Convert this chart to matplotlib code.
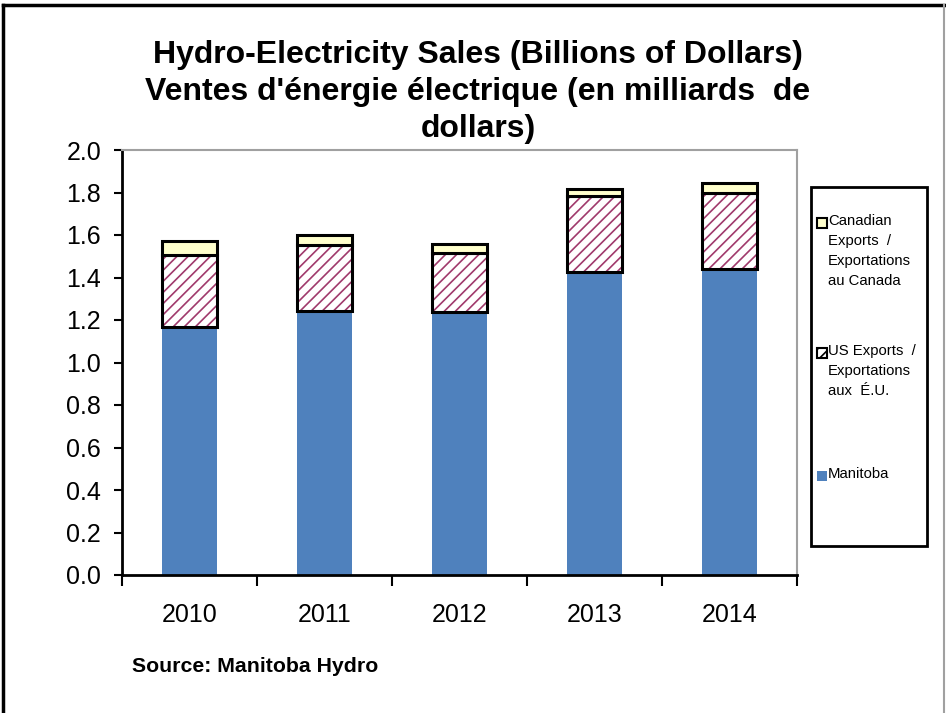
import numpy as np
import matplotlib
matplotlib.use('Agg')
import matplotlib.pyplot as plt
from matplotlib.patches import Rectangle
from matplotlib.lines import Line2D

plt.rcParams['font.family'] = ['Liberation Sans', 'DejaVu Sans']
plt.rcParams['hatch.linewidth'] = 1.2

years = ['2010', '2011', '2012', '2013', '2014']
manitoba = [1.168, 1.244, 1.236, 1.426, 1.440]
us_exports = [0.339, 0.309, 0.280, 0.359, 0.356]
cdn_exports = [0.064, 0.047, 0.040, 0.032, 0.049]

title = ("Hydro-Electricity Sales (Billions of Dollars)\n"
         "Ventes d'énergie électrique (en milliards  de\ndollars)")
legend_labels = ["Canadian\nExports  /\nExportations\nau Canada",
                 "US Exports  /\nExportations\naux  É.U.",
                 "Manitoba"]

BLUE = '#4F81BD'
CREAM = '#FFFFCC'
MAROON = '#A03A6C'

W, H = 946, 713
fig = plt.figure(figsize=(W / 100, H / 100), dpi=100)


def fx(px):
    return px / W


def fy(py):
    return 1 - py / H


# outer chart frame
fig.add_artist(Line2D([fx(3), fx(3)], [fy(5), 0], color='black', lw=2.5))
fig.add_artist(Line2D([fx(3), fx(944)], [fy(5), fy(5)], color='black', lw=2.5))
fig.add_artist(Line2D([fx(944), fx(944)], [fy(5), 0], color='#A0A0A0', lw=1.5))

ax = fig.add_axes([fx(122), fy(575), fx(797) - fx(122), fy(150) - fy(575)])

x = np.arange(len(years))
bw = 0.403
man = np.array(manitoba)
us = np.array(us_exports)
cdn = np.array(cdn_exports)

ax.bar(x, man, bw, color=BLUE, edgecolor='none', zorder=2)
# hatched US segment: hatch drawn in maroon, outline drawn separately in black
ax.bar(x, us, bw, bottom=man, color='white', edgecolor=MAROON, hatch='///',
       linewidth=0, zorder=2)
ax.bar(x, us, bw, bottom=man, fill=False, edgecolor='black', linewidth=2.2, zorder=3)
ax.bar(x, cdn, bw, bottom=man + us, color=CREAM, edgecolor='black',
       linewidth=2.2, zorder=3)

ax.set_xlim(-0.5, len(years) - 0.5)
ax.set_ylim(0, 2.0)
ax.set_yticks(np.arange(0, 2.01, 0.2))
ax.set_yticklabels([f'{v:.1f}' for v in np.arange(0, 2.01, 0.2)])
ax.set_xticks(x)
ax.set_xticklabels(years)
ax.set_xticks(np.arange(-0.5, len(years)), minor=True)
ax.tick_params(axis='x', which='major', length=0, pad=20, labelsize=18)
ax.tick_params(axis='x', which='minor', length=8, width=1.5, direction='out')
ax.tick_params(axis='y', length=6, width=1.5, direction='out', labelsize=18, pad=9)

for side in ('top', 'right'):
    ax.spines[side].set_color('#A0A0A0')
    ax.spines[side].set_linewidth(1.5)
for side in ('left', 'bottom'):
    ax.spines[side].set_color('black')
    ax.spines[side].set_linewidth(2)

fig.text(fx(478), fy(40), title, ha='center', va='top', fontsize=23,
         fontweight='bold', linespacing=1.3)

fig.text(fx(132), fy(667), 'Source: Manitoba Hydro', ha='left', va='center',
         fontsize=15.3, fontweight='bold')

# legend box
lx0, lx1, ly0, ly1 = 811, 927, 187, 546
fig.add_artist(Rectangle((fx(lx0), fy(ly1)), fx(lx1) - fx(lx0), fy(ly0) - fy(ly1),
                         facecolor='white', edgecolor='black', lw=2))
entries = [(214, dict(facecolor=CREAM, edgecolor='black', lw=1.5)),
           (344, dict(facecolor='white', edgecolor='black', lw=1.5, hatch='///')),
           (467, dict(facecolor=BLUE, edgecolor='none'))]
for (ytop, style), label in zip(entries, legend_labels):
    fig.add_artist(Rectangle((fx(817), fy(ytop + 14)), fx(10), fy(0) - fy(10),
                             **style))
    fig.text(fx(828), fy(ytop), label, ha='left', va='top', fontsize=10.7,
             linespacing=1.55)

fig.savefig('out.png', dpi=100)
